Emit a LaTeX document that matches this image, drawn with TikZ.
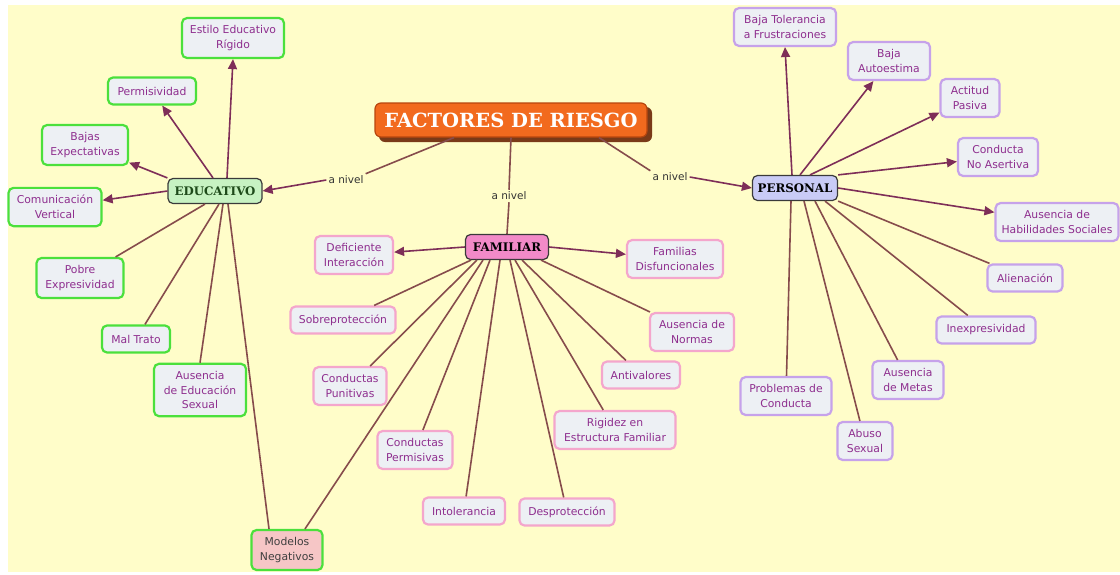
\documentclass[tikz,border=0pt]{standalone}
\usepackage{fontspec}
\setmainfont{DejaVu Sans}
\newfontfamily\titlefont{DejaVu Serif}
\usetikzlibrary{arrows.meta}
\definecolor{bgyellow}{HTML}{FFFDC9}
\definecolor{linkbrown}{HTML}{864C4C}
\definecolor{arrowpurple}{HTML}{7E2E58}
\definecolor{leaffill}{HTML}{EDF0F4}
\definecolor{leaftext}{HTML}{8E2E8E}
\definecolor{greenborder}{HTML}{4BE03C}
\definecolor{pinkborder}{HTML}{F4A6CC}
\definecolor{lavborder}{HTML}{C6A2EA}
\definecolor{modfill}{HTML}{F6C6C6}
\definecolor{edufill}{HTML}{C7F2C2}
\definecolor{famfill}{HTML}{F28AC8}
\definecolor{perfill}{HTML}{C9CBF6}
\definecolor{titlefill}{HTML}{F26A1E}
\definecolor{titleborder}{HTML}{B8460E}
\definecolor{titleshadow}{HTML}{7A3A18}
\definecolor{catborder}{HTML}{3A3A3A}
\definecolor{edutext}{HTML}{1E4A1A}
\tikzset{
  leaf/.style={draw, rounded corners=5pt, line width=2.2pt, fill=leaffill,
    text=leaftext, align=center, font=\fontsize{10.8}{14.5}\selectfont,
    inner xsep=6pt, inner ysep=7.5pt, minimum height=27pt},
  eduleaf/.style={leaf, draw=greenborder},
  famleaf/.style={leaf, draw=pinkborder},
  perleaf/.style={leaf, draw=lavborder},
  catbox/.style={draw=catborder, rounded corners=5pt, line width=1.2pt,
    font=\titlefont\bfseries\fontsize{11.8}{13}\selectfont, inner xsep=4pt,
    minimum height=25pt},
  lab/.style={font=\fontsize{10.5}{12}\selectfont, text=black!80, inner sep=2pt},
  link/.style={draw=linkbrown, line width=1.6pt},
  arrowlink/.style={draw=arrowpurple, line width=1.6pt,
    -{Triangle[length=10pt,width=9pt]}},
}
\begin{document}
\begin{tikzpicture}[x=1pt,y=-1pt]
\useasboundingbox (0,0) rectangle (1120,574);
\fill[bgyellow] (8,5) rectangle (1120,572);

% title
\fill[titleshadow, rounded corners=6pt] (379,107) rectangle (652,142);
\node[draw=titleborder, line width=1.2pt, fill=titlefill, rounded corners=6pt,
  text=white, font=\titlefont\bfseries\fontsize{19.5}{21}\selectfont,
  minimum width=272pt, minimum height=34pt, inner sep=2pt] (title) at (511,120) {FACTORES DE RIESGO};

% categories
\node[catbox, fill=edufill, text=edutext, minimum width=94pt] (edu) at (215,191) {EDUCATIVO};
\node[catbox, fill=famfill, text=black, minimum width=83pt] (fam) at (507,247) {FAMILIAR};
\node[catbox, fill=perfill, text=black, minimum width=85pt] (per) at (795,188) {PERSONAL};

% labels
\node[lab] (l1) at (346,180) {a nivel};
\node[lab] (l2) at (509,196) {a nivel};
\node[lab] (l3) at (670,177) {a nivel};

% educativo leaves
\node[eduleaf, minimum width=102pt] (e1) at (233,38) {Estilo Educativo\\Rígido};
\node[eduleaf, minimum width=88pt] (e2) at (152,91) {Permisividad};
\node[eduleaf, minimum width=86pt] (e3) at (85,145) {Bajas\\Expectativas};
\node[eduleaf, minimum width=93pt] (e4) at (55,207) {Comunicación\\Vertical};
\node[eduleaf, minimum width=87pt] (e5) at (80,278) {Pobre\\Expresividad};
\node[eduleaf, minimum width=68pt] (e6) at (136,339) {Mal Trato};
\node[eduleaf, minimum width=92pt] (e7) at (200,390) {Ausencia\\de Educación\\Sexual};
\node[eduleaf, draw=greenborder, fill=modfill, text=black!75, minimum width=71pt] (mod) at (287,550) {Modelos\\Negativos};

% familiar leaves
\node[famleaf, minimum width=78pt] (f1) at (354,255) {Deficiente\\Interacción};
\node[famleaf, minimum width=96pt] (f2) at (675,259) {Familias\\Disfuncionales};
\node[famleaf, minimum width=105pt] (f3) at (343,320) {Sobreprotección};
\node[famleaf, minimum width=73pt] (f4) at (350,386) {Conductas\\Punitivas};
\node[famleaf, minimum width=75pt] (f5) at (415,450) {Conductas\\Permisivas};
\node[famleaf, minimum width=82pt] (f6) at (464,511) {Intolerancia};
\node[famleaf, minimum width=95pt] (f7) at (567,512) {Desprotección};
\node[famleaf, minimum width=121pt] (f8) at (615,430) {Rigidez en\\Estructura Familiar};
\node[famleaf, minimum width=78pt] (f9) at (641,375) {Antivalores};
\node[famleaf, minimum width=84pt] (f10) at (692,332) {Ausencia de\\Normas};

% personal leaves
\node[perleaf, minimum width=102pt] (p1) at (785,27) {Baja Tolerancia\\a Frustraciones};
\node[perleaf, minimum width=82pt] (p2) at (889,61) {Baja\\Autoestima};
\node[perleaf, minimum width=59pt] (p3) at (970,98) {Actitud\\Pasiva};
\node[perleaf, minimum width=80pt] (p4) at (998,157) {Conducta\\No Asertiva};
\node[perleaf, minimum width=120pt] (p5) at (1057,222) {Ausencia de\\Habilidades Sociales};
\node[perleaf, minimum width=75pt] (p6) at (1025,278) {Alienación};
\node[perleaf, minimum width=99pt] (p7) at (986,330) {Inexpresividad};
\node[perleaf, minimum width=71pt] (p8) at (908,380) {Ausencia\\de Metas};
\node[perleaf, minimum width=91pt] (p9) at (786,396) {Problemas de\\Conducta};
\node[perleaf, minimum width=55pt] (p10) at (865,441) {Abuso\\Sexual};

% title connections
\draw[link] ([xshift=-57pt]title.south) -- (l1.north east);
\draw[arrowlink] (l1.west) -- (edu.east);
\draw[link] (title.south) -- (l2.north);
\draw[link] (l2.south) -- (fam.north);
\draw[link] ([xshift=88pt]title.south) -- (l3.north west);
\draw[arrowlink] (l3.east) -- (per.west);

% educativo connections
\draw[arrowlink] ([xshift=12pt]edu.north) -- (e1.south);
\draw[arrowlink] ([xshift=-2pt]edu.north) -- (e2);
\draw[arrowlink] (edu.north west) -- (e3);
\draw[arrowlink] (edu.west) -- (e4);
\draw[link] ([xshift=-10pt]edu.south) -- (e5);
\draw[link] ([xshift=4pt]edu.south) -- (e6);
\draw[link] ([xshift=8pt]edu.south) -- (e7.north);
\draw[link] ([xshift=13pt]edu.south) -- ([xshift=-18pt]mod.north);
\draw[link] ([xshift=-24pt]fam.south) -- ([xshift=18pt]mod.north);

% familiar connections
\draw[arrowlink] (fam.west) -- (f1);
\draw[arrowlink] (fam.east) -- (f2);
\draw[link] ([xshift=-36pt]fam.south) -- (f3);
\draw[link] ([xshift=-30pt]fam.south) -- (f4);
\draw[link] ([xshift=-17pt]fam.south) -- (f5);
\draw[link] ([xshift=-7pt]fam.south) -- (f6);
\draw[link] ([xshift=3pt]fam.south) -- (f7);
\draw[link] ([xshift=8pt]fam.south) -- (f8);
\draw[link] ([xshift=15pt]fam.south) -- (f9);
\draw[link] ([xshift=34pt]fam.south) -- (f10);

% personal connections
\draw[arrowlink] ([xshift=-3pt]per.north) -- (p1.south);
\draw[arrowlink] ([xshift=5pt]per.north) -- (p2);
\draw[arrowlink] ([xshift=15pt]per.north) -- (p3);
\draw[arrowlink] (per.north east) -- (p4);
\draw[arrowlink] (per.east) -- (p5);
\draw[link] (per.south east) -- (p6);
\draw[link] ([xshift=30pt]per.south) -- (p7);
\draw[link] ([xshift=20pt]per.south) -- (p8);
\draw[link] ([xshift=-4pt]per.south) -- (p9);
\draw[link] ([xshift=9pt]per.south) -- (p10);
\end{tikzpicture}
\end{document}
